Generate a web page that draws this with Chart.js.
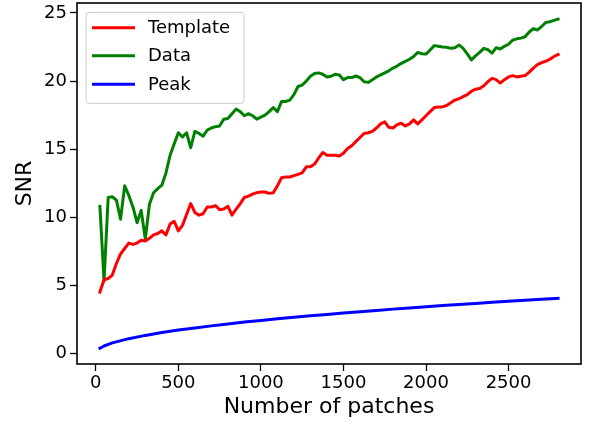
<!DOCTYPE html>
<html><head><meta charset="utf-8">
<script src="https://cdn.jsdelivr.net/npm/chart.js@4"></script>
<style>html,body{margin:0;padding:0;background:#fff}canvas{display:block}</style>
</head><body>
<canvas id="c" width="596" height="426"></canvas>
<script>
const patches = [25,50,75,100,125,150,175,200,225,250,275,300,325,350,375,400,425,450,475,500,525,550,575,600,625,650,675,700,725,750,775,800,825,850,875,900,925,950,975,1000,1025,1050,1075,1100,1125,1150,1175,1200,1225,1250,1275,1300,1325,1350,1375,1400,1425,1450,1475,1500,1525,1550,1575,1600,1625,1650,1675,1700,1725,1750,1775,1800,1825,1850,1875,1900,1925,1950,1975,2000,2025,2050,2075,2100,2125,2150,2175,2200,2225,2250,2275,2300,2325,2350,2375,2400,2425,2450,2475,2500,2525,2550,2575,2600,2625,2650,2675,2700,2725,2750,2775,2800];
const templateSNR = [4.5,5.4,5.5,5.75,6.6,7.3,7.7,8.1,8.0,8.1,
8.3,8.25,8.45,8.7,8.8,9.0,8.7,9.5,9.7,9.0,
9.4,10.2,11.0,10.35,10.15,10.25,10.75,10.75,10.85,10.55,
10.6,10.8,10.15,10.6,11.0,11.45,11.55,11.7,11.8,11.85,
11.85,11.75,11.8,12.3,12.9,12.95,12.95,13.05,13.15,13.25,
13.7,13.7,13.9,14.35,14.75,14.55,14.55,14.55,14.5,14.7,
15.05,15.25,15.55,15.85,16.15,16.2,16.3,16.55,16.85,17.0,
16.6,16.55,16.8,16.9,16.7,16.85,17.15,16.85,17.15,17.45,
17.75,18.05,18.1,18.1,18.2,18.4,18.6,18.7,18.85,19.0,
19.25,19.4,19.45,19.65,19.95,20.2,20.1,19.85,20.1,20.3,
20.4,20.3,20.35,20.4,20.65,20.95,21.2,21.35,21.45,21.6,
21.8,21.95];
const dataSNR = [10.8,5.3,11.45,11.5,11.25,9.85,12.3,11.6,10.75,9.6,
10.5,8.4,10.95,11.8,12.1,12.35,13.25,14.55,15.4,16.2,
15.9,16.2,15.1,16.3,16.15,15.95,16.4,16.55,16.65,16.7,
17.2,17.25,17.6,17.95,17.75,17.45,17.6,17.45,17.2,17.35,
17.5,17.75,18.05,17.75,18.5,18.5,18.6,19.0,19.6,19.7,
20.0,20.35,20.55,20.6,20.5,20.3,20.35,20.5,20.45,20.1,
20.25,20.25,20.37,20.25,19.95,19.9,20.1,20.3,20.45,20.6,
20.75,20.95,21.1,21.3,21.45,21.6,21.8,22.1,22.0,21.98,
22.28,22.6,22.55,22.5,22.48,22.4,22.45,22.65,22.4,22.0,
21.55,21.85,22.1,22.4,22.3,22.05,22.45,22.35,22.55,22.7,
23.0,23.1,23.15,23.25,23.6,23.85,23.75,24.0,24.3,24.35,
24.45,24.55];
const peakPatches = [25,50,100,200,300,400,500,600,700,800,900,1000,1100,1200,1300,1400,1500,1600,1700,1800,1900,2000,2100,2200,2300,2400,2500,2600,2700,2800];
const peakSNR = [0.38,0.54,0.77,1.08,1.32,1.53,1.71,1.87,2.02,2.16,2.30,2.42,2.54,2.65,2.76,2.86,2.96,3.06,3.15,3.25,3.33,3.42,3.51,3.59,3.67,3.75,3.83,3.90,3.98,4.05];
const seriesNames = ['Template','Data','Peak'];
const xTicks = [0,500,1000,1500,2000,2500];
const yTicks = [0,5,10,15,20,25];

const FONT = "'DejaVu Sans', sans-serif";
const pts = (xs, ys) => xs.map((x, i) => ({x: x, y: ys[i]}));

const framePlugin = {
  id: 'frame',
  afterDatasetsDraw(chart) {
    const {ctx, chartArea: a} = chart;
    ctx.save();
    ctx.strokeStyle = '#000';
    ctx.lineWidth = 1.6;
    ctx.strokeRect(a.left, a.top, a.right - a.left, a.bottom - a.top);
    ctx.restore();
  }
};

const legendPlugin = {
  id: 'mplLegend',
  afterDraw(chart) {
    const {ctx, chartArea: a} = chart;
    const bx = a.left + 9, by = a.top + 9.3, bw = 158, bh = 91, r = 3;
    ctx.save();
    ctx.beginPath();
    ctx.moveTo(bx + r, by);
    ctx.lineTo(bx + bw - r, by);
    ctx.quadraticCurveTo(bx + bw, by, bx + bw, by + r);
    ctx.lineTo(bx + bw, by + bh - r);
    ctx.quadraticCurveTo(bx + bw, by + bh, bx + bw - r, by + bh);
    ctx.lineTo(bx + r, by + bh);
    ctx.quadraticCurveTo(bx, by + bh, bx, by + bh - r);
    ctx.lineTo(bx, by + r);
    ctx.quadraticCurveTo(bx, by, bx + r, by);
    ctx.closePath();
    ctx.fillStyle = 'rgba(255,255,255,0.8)';
    ctx.fill();
    ctx.strokeStyle = '#cccccc';
    ctx.lineWidth = 1;
    ctx.stroke();
    const rows = [15.4, 43.4, 72];
    chart.data.datasets.forEach((ds, i) => {
      const y = by + rows[i];
      ctx.beginPath();
      ctx.moveTo(bx + 6, y);
      ctx.lineTo(bx + 49, y);
      ctx.strokeStyle = ds.borderColor;
      ctx.lineWidth = 3;
      ctx.lineCap = 'butt';
      ctx.stroke();
      ctx.fillStyle = '#000';
      ctx.font = '18px ' + FONT;
      ctx.textBaseline = 'middle';
      ctx.textAlign = 'left';
      ctx.fillText(ds.label, bx + 62, y + 1);
    });
    ctx.restore();
  }
};

const lineStyle = {pointRadius: 0, borderWidth: 3, tension: 0, fill: false, borderJoinStyle: 'round', borderCapStyle: 'square'};

new Chart(document.getElementById('c'), {
  type: 'line',
  data: {
    datasets: [
      Object.assign({label: seriesNames[0], data: pts(patches, templateSNR), borderColor: '#ff0000'}, lineStyle),
      Object.assign({label: seriesNames[1], data: pts(patches, dataSNR), borderColor: '#008000'}, lineStyle),
      Object.assign({label: seriesNames[2], data: pts(peakPatches, peakSNR), borderColor: '#0000ff'}, lineStyle)
    ]
  },
  options: {
    responsive: false,
    animation: false,
    devicePixelRatio: 1,
    layout: {padding: {top: 3, right: 15, bottom: 0, left: 0}},
    plugins: {legend: {display: false}, tooltip: {enabled: false}},
    scales: {
      x: {
        type: 'linear',
        min: -113.75, max: 2938.75,
        afterBuildTicks: s => { s.ticks = xTicks.map(v => ({value: v})); },
        afterFit: s => { s.height = 62; s.paddingLeft = 0; s.paddingRight = 0; },
        border: {display: false},
        grid: {display: true, drawOnChartArea: false, drawTicks: true, tickLength: 7, tickWidth: 1.3, tickColor: '#000', color: '#000'},
        ticks: {color: '#000', font: {family: FONT, size: 18}, padding: 2, maxRotation: 0, autoSkip: false, callback: v => String(v)},
        title: {display: true, text: 'Number of patches', color: '#000', font: {family: FONT, size: 22, lineHeight: 1.2}, padding: {top: 0, bottom: 6}}
      },
      y: {
        type: 'linear',
        min: -0.78, max: 25.73,
        afterBuildTicks: s => { s.ticks = yTicks.map(v => ({value: v})); },
        afterFit: s => { s.width = 77; s.paddingTop = 0; s.paddingBottom = 0; },
        border: {display: false},
        grid: {display: true, drawOnChartArea: false, drawTicks: true, tickLength: 7, tickWidth: 1.3, tickColor: '#000', color: '#000'},
        ticks: {color: '#000', font: {family: FONT, size: 18}, padding: 3, autoSkip: false, callback: v => String(v)},
        title: {display: true, text: 'SNR', color: '#000', font: {family: FONT, size: 22, lineHeight: 1.2}, padding: {top: 12, bottom: 0}}
      }
    }
  },
  plugins: [framePlugin, legendPlugin]
});
</script>
</body></html>
